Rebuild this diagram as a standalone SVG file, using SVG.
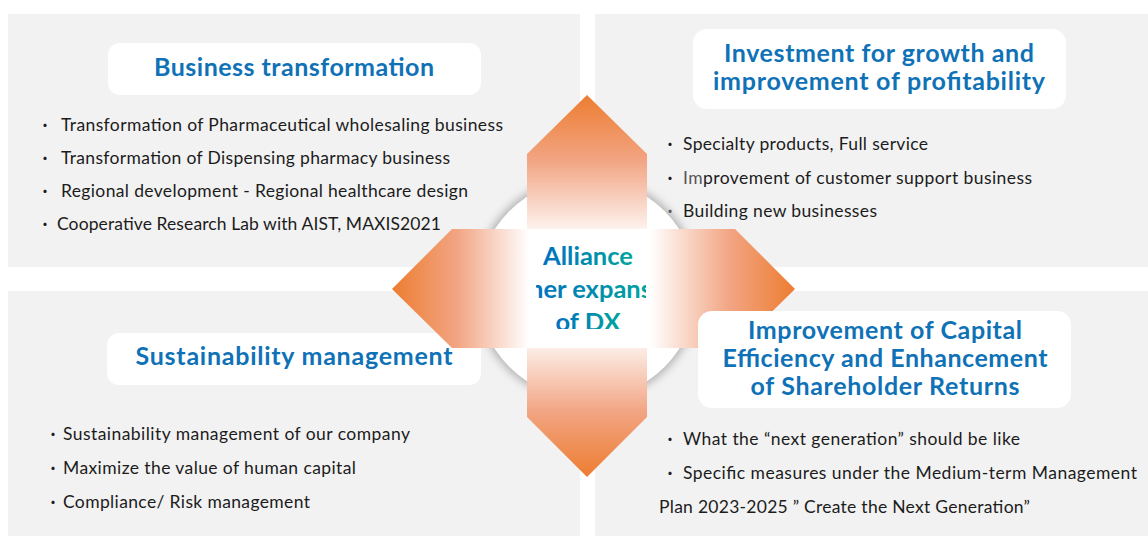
<svg xmlns="http://www.w3.org/2000/svg" width="1148" height="536" viewBox="0 0 1148 536">
  <defs>
    <style>
      .panel { fill: #f2f2f2; }
      .tbox { fill: #ffffff; }
      .title { font-family: Lato, "Liberation Sans", sans-serif; font-weight: 700; font-size: 25px; fill: #0f72b7; text-anchor: middle; }
      .item { font-family: Lato, "Liberation Sans", sans-serif; font-size: 17.5px; fill: #1c1c1c; }
      .dot { font-family: "Noto Sans CJK JP", sans-serif; font-size: 15px; fill: #1c1c1c; text-anchor: middle; }
      .hub { font-family: Lato, "Liberation Sans", sans-serif; font-weight: 700; font-size: 25.5px; fill: url(#hubText); }
    </style>
    <linearGradient id="vFade" gradientUnits="userSpaceOnUse" x1="0" y1="95" x2="0" y2="477">
      <stop offset="0" stop-color="#ED7D31"/>
      <stop offset="0.17" stop-color="#F2A482"/>
      <stop offset="0.38" stop-color="#FFFFFF"/>
      <stop offset="0.62" stop-color="#FFFFFF"/>
      <stop offset="0.83" stop-color="#F2A482"/>
      <stop offset="1" stop-color="#ED7D31"/>
    </linearGradient>
    <linearGradient id="hFade" gradientUnits="userSpaceOnUse" x1="392" y1="0" x2="795" y2="0">
      <stop offset="0" stop-color="#ED7D31"/>
      <stop offset="0.16" stop-color="#F2A482"/>
      <stop offset="0.34" stop-color="#FFFFFF"/>
      <stop offset="0.64" stop-color="#FFFFFF"/>
      <stop offset="0.84" stop-color="#F2A482"/>
      <stop offset="1" stop-color="#ED7D31"/>
    </linearGradient>
    <linearGradient id="hubText" x1="0" y1="0" x2="1" y2="0">
      <stop offset="0" stop-color="#0070C0"/>
      <stop offset="1" stop-color="#00A69C"/>
    </linearGradient>
    <filter id="soft" x="-20%" y="-20%" width="140%" height="140%">
      <feGaussianBlur stdDeviation="4"/>
    </filter>
    <clipPath id="hubClip">
      <rect x="536" y="230" width="110" height="99"/>
    </clipPath>
  </defs>

  <rect width="1148" height="536" fill="#ffffff"/>

  <!-- grey quadrant backgrounds -->
  <g id="quadrants">
    <rect class="panel" x="8" y="14" width="572" height="253"/>
    <rect class="panel" x="595" y="14" width="553" height="253"/>
    <rect class="panel" x="8" y="291" width="572" height="245"/>
    <rect class="panel" x="595" y="291" width="553" height="245"/>
  </g>

  <!-- quadrant: business transformation -->
  <g id="business-transformation">
    <rect class="tbox" x="108" y="43" width="373" height="52" rx="12"/>
    <text class="title" x="294" y="76" textLength="280">Business transformation</text>
    <text class="dot" x="45" y="131">・</text>
    <text class="item" x="61" y="131" textLength="442">Transformation of Pharmaceutical wholesaling business</text>
    <text class="dot" x="45" y="164">・</text>
    <text class="item" x="61" y="164" textLength="389">Transformation of Dispensing pharmacy business</text>
    <text class="dot" x="45" y="197">・</text>
    <text class="item" x="61" y="197" textLength="407">Regional development - Regional healthcare design</text>
    <text class="dot" x="45" y="230">・</text>
    <text class="item" x="57" y="230" textLength="384">Cooperative Research Lab with AIST, MAXIS2021</text>
  </g>

  <!-- quadrant: investment for growth -->
  <g id="investment-growth">
    <rect class="tbox" x="693" y="29" width="373" height="80" rx="14"/>
    <text class="title" x="879" y="62" textLength="310">Investment for growth and</text>
    <text class="title" x="879" y="90" textLength="332">improvement of profitability</text>
    <text class="dot" x="670" y="150">・</text>
    <text class="item" x="683" y="150" textLength="245">Specialty products, Full service</text>
    <text class="dot" x="670" y="184">・</text>
    <text class="item" x="683" y="184" textLength="349"><tspan fill="#555555">Im</tspan>provement of customer support business</text>
    <text class="dot" x="670" y="217">・</text>
    <text class="item" x="683" y="217" textLength="194">Building new businesses</text>
  </g>

  <!-- quadrant: sustainability management -->
  <g id="sustainability-management">
    <rect class="tbox" x="107" y="333" width="374" height="52" rx="12"/>
    <text class="title" x="294" y="365" textLength="317">Sustainability management</text>
    <text class="dot" x="53" y="440">・</text>
    <text class="item" x="63" y="440" textLength="347">Sustainability management of our company</text>
    <text class="dot" x="53" y="474">・</text>
    <text class="item" x="63" y="474" textLength="293">Maximize the value of human capital</text>
    <text class="dot" x="53" y="508">・</text>
    <text class="item" x="63" y="508" textLength="247">Compliance/ Risk management</text>
  </g>

  <!-- central hub: disc, crossed double arrows and label -->
  <g id="hub">
    <circle cx="587" cy="289" r="113" fill="#b4b4b4" filter="url(#soft)"/>
    <circle cx="587" cy="289" r="110" fill="#ffffff"/>
    <g id="connectors">
      <polygon points="587,95 647,154 647,417 587,477 527,417 527,154" fill="url(#vFade)"/>
      <polygon points="392,289 452,229 735,229 795,289 735,348 452,348" fill="url(#hFade)"/>
    </g>
    <g clip-path="url(#hubClip)">
      <text class="hub" x="588" y="265" text-anchor="middle">Alliance</text>
      <text class="hub" x="529" y="298">her expans</text>
      <text class="hub" x="588" y="331" text-anchor="middle">of DX</text>
    </g>
  </g>

  <!-- quadrant: capital efficiency (its title box sits over the right arrow) -->
  <g id="capital-efficiency">
    <rect class="tbox" x="698" y="311" width="373" height="97" rx="14"/>
    <text class="title" x="885" y="339" textLength="274">Improvement of Capital</text>
    <text class="title" x="885" y="367" textLength="325">Efficiency and Enhancement</text>
    <text class="title" x="885" y="395" textLength="269">of Shareholder Returns</text>
    <text class="dot" x="670" y="445">・</text>
    <text class="item" x="683" y="445" textLength="337">What the “next generation” should be like</text>
    <text class="dot" x="670" y="479">・</text>
    <text class="item" x="683" y="479" textLength="454">Specific measures under the Medium-term Management</text>
    <text class="item" x="659" y="513" textLength="371">Plan 2023-2025 ” Create the Next Generation”</text>
  </g>
</svg>
